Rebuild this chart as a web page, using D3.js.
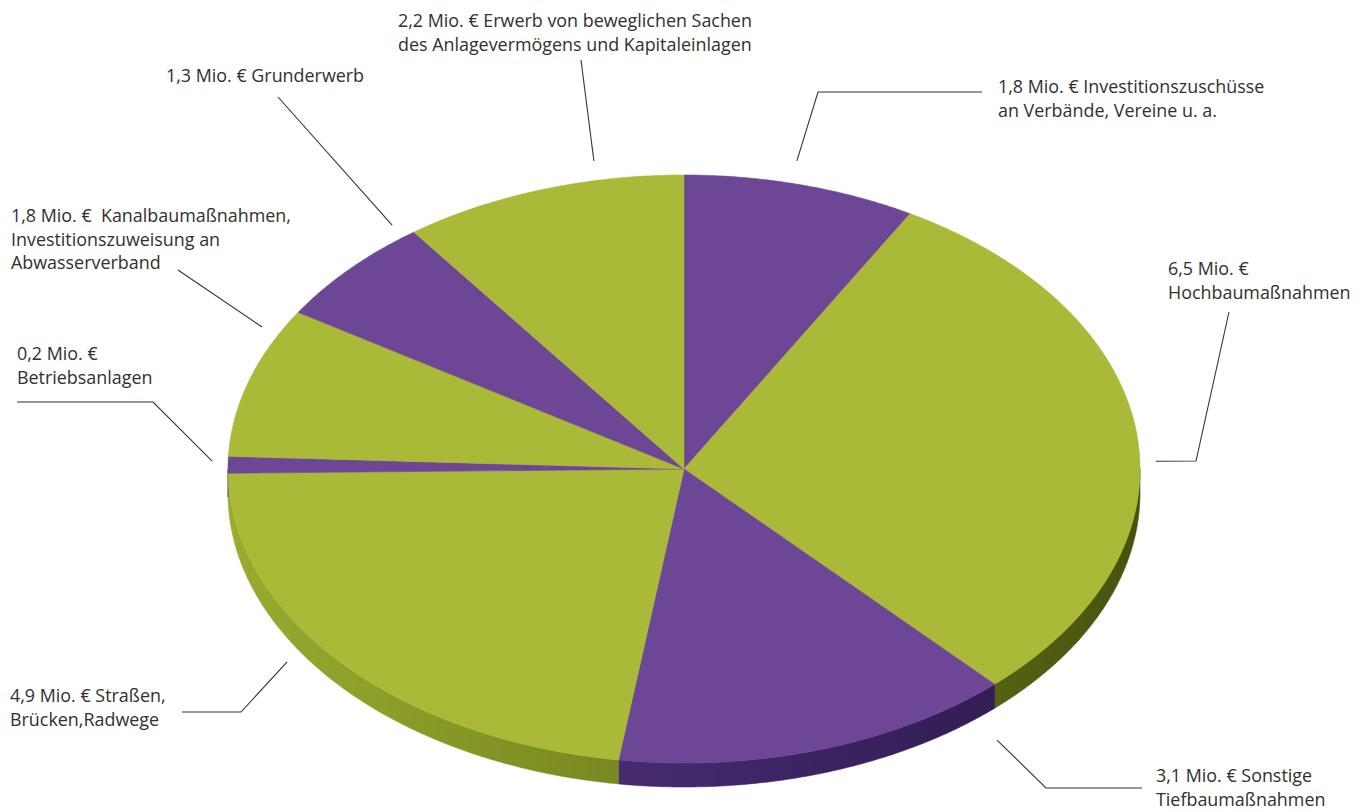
<!DOCTYPE html>
<html>
<head>
<meta charset="utf-8">
<script src="https://cdn.jsdelivr.net/npm/d3@7"></script>
<style>
  html, body { margin: 0; padding: 0; background: #ffffff; }
  svg { display: block; }
  text { font-family: "Open Sans", sans-serif; font-size: 17.9px; fill: #303030; white-space: pre; }
</style>
</head>
<body>
<svg id="chart" width="1365" height="812"></svg>
<script>
// Investitionen (Mio. €), Reihenfolge im Uhrzeigersinn ab 12 Uhr
const categories = [
  "Investitionszuschüsse",
  "Hochbaumaßnahmen",
  "Sonstige Tiefbaumaßnahmen",
  "Straßen, Brücken, Radwege",
  "Betriebsanlagen",
  "Kanalbaumaßnahmen",
  "Grunderwerb",
  "Erwerb von beweglichen Sachen"
];
const values = [1.8, 6.5, 3.1, 4.9, 0.2, 1.8, 1.3, 2.2];

// Beschriftung: erste Zeile beginnt mit dem Betrag, danach der Text
const labelRest = [
  [" Investitionszuschüsse", "an Verbände, Vereine u. a."],
  ["", "Hochbaumaßnahmen"],
  [" Sonstige", "Tiefbaumaßnahmen"],
  [" Straßen,", "Brücken,Radwege"],
  ["", "Betriebsanlagen"],
  ["  Kanalbaumaßnahmen,", "Investitionszuweisung an", "Abwasserverband"],
  [" Grunderwerb"],
  [" Erwerb von beweglichen Sachen", "des Anlagevermögens und Kapitaleinlagen"]
];

const sliceColors = ["#6e4696", "#aab937"];

// Platzierung der Beschriftungen und Führungslinien
const labelLayout = [
  { frac: 0.447, r: 1.077, low: false, path: [[818, 92], [982, 92]],   tx: 998,  ty: 93 },
  { frac: 0.548, r: 1.035, low: false, path: [[1196, 461], [1229, 312]], tx: 1168, ty: 275 },
  { frac: 0.072, r: 1.085, low: true,  path: [[1046, 788], [1142, 788]], tx: 1156, ty: 782 },
  { frac: 0.597, r: 1.043, low: true,  path: [[241, 712], [182, 712]],  tx: 10,   ty: 702 },
  { frac: 0.704, r: 1.035, low: false, path: [[153, 402], [17, 402]],   tx: 17,   ty: 360 },
  { frac: 0.844, r: 1.044, low: false, path: [[178, 270]],              tx: 11,   ty: 222 },
  { frac: 0.9385, r: 1.048, low: false, path: [[278, 97]],              tx: 166,  ty: 82 },
  { frac: 0.706, r: 1.066, low: false, path: [[581, 60]],               tx: 398,  ty: 27 }
];

const svg = d3.select("#chart");
const cx = 684, cy = 469, rx = 456, ry = 294, depth = 24, lineH = 23.5;

const x = d3.scaleLinear().domain([-1, 1]).range([cx - rx, cx + rx]);
const y = d3.scaleLinear().domain([-1, 1]).range([cy - ry, cy + ry]);

const de = d3.formatLocale({ decimal: ",", thousands: ".", grouping: [3], currency: ["", " €"] });
const fmt = de.format(".1f");

const arcs = d3.pie().sort(null).value(d => d)(values);

// point on the tilted disc (angle clockwise from 12 o'clock)
const pt = (a, r = 1, dz = 0) => [x(r * Math.sin(a)), y(-r * Math.cos(a)) + dz];
const sample = (a0, a1) => {
  const n = Math.max(2, Math.ceil((a1 - a0) / (Math.PI / 360)));
  return d3.range(n + 1).map(i => a0 + (a1 - a0) * i / n);
};
const line = d3.line();

// side wall gradients
const defs = svg.append("defs");
const sideStops = [
  [["0", "#5b3b8c"], ["0.5", "#42286d"], ["1", "#2b1848"]],
  [["0", "#9aab2f"], ["0.5", "#73821f"], ["1", "#46530f"]]
];
sideStops.forEach((stops, i) => {
  const g = defs.append("linearGradient")
    .attr("id", "side" + i)
    .attr("gradientUnits", "userSpaceOnUse")
    .attr("x1", x(-1)).attr("x2", x(1)).attr("y1", 0).attr("y2", 0);
  stops.forEach(s => g.append("stop").attr("offset", s[0]).attr("stop-color", s[1]));
});

// front side walls
const sides = svg.append("g");
arcs.forEach((d, i) => {
  const lo = Math.max(d.startAngle, Math.PI / 2);
  const hi = Math.min(d.endAngle, 3 * Math.PI / 2);
  if (hi <= lo) return;
  const as = sample(lo, hi);
  const pts = as.map(a => pt(a)).concat(as.slice().reverse().map(a => pt(a, 1, depth)));
  sides.append("path")
    .attr("d", line(pts) + "Z")
    .attr("fill", `url(#side${i % 2})`)
    .attr("stroke", `url(#side${i % 2})`)
    .attr("stroke-width", 0.6);
});

// top faces
const tops = svg.append("g");
arcs.forEach((d, i) => {
  const pts = [[x(0), y(0)]].concat(sample(d.startAngle, d.endAngle).map(a => pt(a)));
  tops.append("path")
    .attr("d", line(pts) + "Z")
    .attr("fill", sliceColors[i % 2])
    .attr("stroke", sliceColors[i % 2])
    .attr("stroke-width", 0.6)
    .attr("stroke-linejoin", "round");
});

// leader lines and labels
const ann = svg.append("g");
arcs.forEach((d, i) => {
  const L = labelLayout[i];
  const a = d.startAngle + L.frac * (d.endAngle - d.startAngle);
  const anchor = pt(a, L.r, L.low ? depth : 0);
  ann.append("path")
    .attr("d", line([anchor].concat(L.path)))
    .attr("fill", "none")
    .attr("stroke", "#333333")
    .attr("stroke-width", 1.1);

  const lines = labelRest[i].slice();
  lines[0] = fmt(values[i]) + " Mio. €" + lines[0];
  const t = ann.append("text").attr("x", L.tx).attr("y", L.ty);
  lines.forEach((s, k) => {
    t.append("tspan").attr("x", L.tx).attr("y", L.ty + k * lineH).text(s);
  });
});
</script>
</body>
</html>
